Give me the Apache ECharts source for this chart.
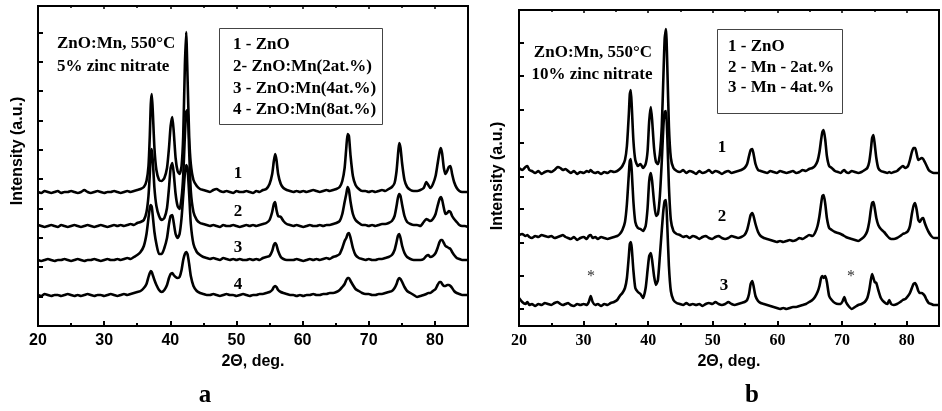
<!DOCTYPE html>
<html>
<head>
<meta charset="utf-8">
<script src="https://cdn.jsdelivr.net/npm/echarts@6.0.0/dist/echarts.min.js"></script>
<style>
  html, body { margin: 0; padding: 0; background: #fff; }
  #main { width: 942px; height: 411px; }
</style>
</head>
<body>
<div id="main"></div>
<script>
// panel a: 2theta grid and the four stacked patterns (intensity in a.u., offset as plotted)
const xA = [
  20,20.5,21,21.5,22,22.5,23,23.5,24,24.5,25,25.5,26,26.5,27,27.5,28,28.5,29,29.5,30,30.5,31,31.5,32,32.5,33,33.5,34,34.5,35,35.5,
  36,36.4,36.7,36.9,37.05,37.2,37.35,37.6,37.9,38.3,38.7,39.1,39.5,39.8,40.05,40.3,40.5,40.8,41.1,41.4,41.7,41.95,42.2,42.4,42.6,42.85,43.1,43.5,44,44.5,
  45,45.5,46,46.5,47,47.5,48,48.5,49,49.5,50,50.5,51,51.5,52,52.5,53,53.5,54,54.5,
  55,55.4,55.65,55.85,56.05,56.3,56.7,57.1,57.6,58.1,
  58.6,59.1,59.6,60.1,60.6,61.1,61.6,62.1,62.6,63.1,63.6,64.1,64.6,65.1,65.6,
  66,66.35,66.6,66.8,67,67.25,67.6,68,68.5,69,
  69.5,70,70.5,71,71.5,72,72.5,73,73.5,
  73.9,74.2,74.4,74.6,74.8,75.05,75.4,75.8,76.3,76.8,
  77.3,77.8,78.3,78.7,79,79.3,79.7,80.1,80.4,80.7,80.9,81.1,81.35,81.6,81.85,82.1,82.35,82.6,82.9,83.3,83.7,84.1,84.5,85
];
const a1 = [
  134,133,135,134,133,134,135,133,134,134,135,134,133,134,136,134,133,134,135,134,133,134,134,135,134,133,134,135,134,135,136,137,
  139,145,160,190,222,232,215,178,156,146,145,148,158,178,200,209,196,168,155,152,160,190,260,294,250,190,162,146,140,137,
  136,135,134,136,137,135,134,135,134,133,135,134,134,135,134,133,135,134,136,137,
  142,152,165,172,166,152,142,138,136,135,
  134,135,134,135,134,135,136,135,134,135,136,135,136,137,139,
  145,158,178,192,190,170,150,141,137,135,
  135,134,135,134,135,136,135,137,139,
  143,155,170,183,178,162,146,139,136,135,
  135,136,138,144,141,138,142,150,162,174,178,172,158,152,155,159,160,152,144,138,135,134,134,134
];
const a2 = [
  101,100,99,100,101,100,99,101,100,99,100,101,100,99,100,101,100,99,100,101,100,99,100,101,100,101,100,101,102,101,103,104,
  106,114,130,152,172,177,166,138,120,110,106,108,118,138,158,163,154,132,120,117,128,150,190,214,216,175,135,114,106,103,
  102,101,100,101,100,99,101,100,100,101,100,99,100,101,100,101,100,101,102,103,
  106,114,122,124,116,110,109,105,102,101,
  100,101,100,99,100,101,100,100,101,100,101,101,102,103,105,
  112,124,132,139,136,124,112,106,103,101,
  101,100,101,100,101,102,102,103,105,
  110,120,128,132,130,121,110,104,102,101,
  101,100,104,107,106,105,107,112,120,127,129,126,118,112,113,115,114,110,107,104,101,100,100,99
];
const a3 = [
  66,65,66,67,66,65,66,66,67,66,65,66,67,66,65,66,66,67,66,65,66,67,66,66,67,66,67,68,67,69,71,74,
  80,92,108,118,121,119,110,94,82,72,72,78,88,102,110,111,104,92,88,92,108,130,152,161,158,132,102,82,74,71,
  69,68,67,68,67,66,68,67,66,67,66,67,66,66,67,66,67,66,68,69,
  70,75,81,83,81,75,69,67,66,66,
  66,67,66,65,66,67,66,67,66,67,68,67,69,70,72,
  78,85,88,92,93,88,78,71,68,67,
  66,67,66,66,67,67,68,69,71,
  76,84,90,92,88,80,73,69,67,66,
  66,66,67,70,71,69,70,73,78,84,86,86,83,80,79,78,77,74,71,68,67,66,66,66
];
const a4 = [
  31,30,32,31,30,31,31,30,31,32,31,30,31,30,31,32,31,30,31,31,30,31,32,31,30,31,32,31,32,33,34,35,
  38,42,49,53,55,54,51,46,41,36,34,36,41,48,52,53,51,49,48,49,56,66,72,74,72,62,50,40,35,33,
  32,31,31,32,31,30,31,32,31,31,30,31,32,31,30,31,31,32,32,33,
  34,36,39,40,39,36,34,33,32,31,
  31,30,31,30,31,31,32,31,31,32,32,33,33,34,36,
  39,42,46,48,48,45,41,37,35,33,
  32,32,31,31,32,32,33,34,35,
  38,42,46,48,47,44,39,35,33,31,
  29,30,31,32,33,33,35,37,41,44,44,42,40,40,41,41,40,38,35,33,32,31,31,31
];

// panel b: 2theta grid and the three stacked patterns
const xB = [
  20,20.5,21,21.3,21.6,22,22.5,23,23.5,24,24.5,25,25.5,26,26.4,26.8,27.2,27.6,28,28.5,29,29.5,30,30.5,30.8,31.1,31.4,31.8,32.2,32.7,33.2,33.7,34.2,34.7,35.2,35.6,
  36,36.4,36.7,37,37.15,37.3,37.45,37.7,38,38.4,38.8,39.2,39.6,39.9,40.15,40.4,40.6,40.9,41.2,41.5,41.8,42.1,42.35,42.55,42.75,42.95,43.2,43.5,43.9,44.4,
  44.9,45.4,45.9,46.4,46.9,47.4,47.9,48.4,48.9,49.4,49.9,50.4,50.9,51.4,51.9,52.4,52.9,53.4,53.9,54.4,54.9,
  55.3,55.6,55.85,56.1,56.3,56.6,57,57.4,57.9,
  58.4,58.9,59.4,59.9,60.4,60.9,61.4,61.9,62.4,62.9,63.4,63.9,64.4,64.9,65.4,65.8,
  66.2,66.5,66.75,66.95,67.15,67.4,67.65,68,68.4,68.9,
  69.4,69.8,70.1,70.35,70.6,71,71.5,72,72.5,73,73.5,
  73.9,74.2,74.45,74.65,74.85,75.05,75.3,75.6,76,76.5,77,77.3,77.6,
  78,78.5,79,79.4,79.8,80.2,80.5,80.8,81.05,81.3,81.55,81.8,82.05,82.3,82.55,82.8,83.1,83.4,83.8,84.2,84.6,85
];
const b1 = [
  158,156,159,160,156,155,153,155,152,154,155,154,156,159,158,156,157,155,153,155,152,154,153,155,154,156,154,153,154,152,154,153,155,154,155,157,
  160,166,180,212,232,236,220,186,166,160,162,158,162,175,205,219,206,178,164,162,172,200,250,288,297,260,200,168,158,155,
  154,156,153,155,154,152,155,153,154,156,153,155,154,152,154,155,153,154,155,156,158,
  162,170,176,177,172,162,156,155,154,
  153,155,154,153,155,154,153,154,155,153,154,156,155,157,158,160,
  165,174,186,194,196,186,170,160,158,155,
  154,153,155,156,154,153,155,154,153,154,156,
  158,164,176,188,191,182,168,158,155,154,153,154,153,
  154,155,158,160,158,160,166,174,178,178,172,166,167,168,167,164,160,156,154,153,153,153
];
const b2 = [
  91,92,90,91,89,88,90,89,91,90,89,90,88,89,90,91,89,88,87,89,86,88,89,87,90,91,88,89,87,89,88,87,88,89,90,92,
  96,104,122,152,165,167,155,125,104,98,97,95,100,118,145,153,145,124,110,112,130,165,200,214,215,190,140,106,95,92,
  91,89,90,88,90,89,87,89,90,88,87,89,90,88,87,88,90,89,88,89,91,
  96,104,111,113,110,102,94,90,88,
  87,86,85,84,85,84,85,86,85,86,88,87,89,91,90,93,
  100,110,122,130,131,122,108,98,96,94,
  93,92,91,90,89,88,87,86,85,87,90,
  95,104,116,123,124,118,108,101,97,94,90,88,87,
  87,88,90,92,93,95,100,112,120,123,116,106,104,107,108,103,98,94,90,88,88,88
];
const b3 = [
  28,24,22,24,21,22,20,22,21,23,22,21,23,24,22,21,22,23,21,20,22,21,22,21,24,30,24,21,22,20,22,21,23,24,26,30,
  33,38,48,70,82,84,78,56,38,34,32,28,38,56,70,73,66,50,41,46,70,96,116,125,126,100,60,35,26,23,
  22,21,23,21,22,21,22,20,22,23,22,24,22,21,22,24,22,21,22,23,24,
  26,32,42,45,40,30,25,23,22,
  21,20,19,18,17,18,17,18,19,19,20,21,22,24,26,29,
  34,40,48,50,48,50,44,30,26,23,
  22,22,25,29,24,20,17,19,21,22,24,
  28,36,46,52,48,44,43,36,28,24,22,26,22,
  21,22,24,26,27,30,33,38,42,43,40,35,33,33,32,30,26,23,22,21,21,21
];

// inner tick marks on the intensity axes
const yTicksA = [29, 59, 88, 117, 147, 176, 205, 235, 264, 293];
const yTicksB = [17, 50, 83, 117, 149, 183, 216, 250, 283];

const legendA = ['1 - ZnO', '2- ZnO:Mn(2at.%)', '3 - ZnO:Mn(4at.%)', '4 - ZnO:Mn(8at.%)'];
const legendB = ['1 - ZnO', '2 - Mn - 2at.%', '3 - Mn - 4at.%'];

const SERIF = '"Liberation Serif", "Times New Roman", serif';
const SANS = '"Liberation Sans", Arial, sans-serif';

const chart = echarts.init(document.getElementById('main'), null, { renderer: 'canvas' });

function pairs (xs, ys) {
  return xs.map((x, i) => [x, ys[i]]);
}

function bottomAxis (grid, labelFont) {
  return {
    type: 'value', gridIndex: grid, position: 'bottom',
    min: 20, max: 85, interval: 10,
    name: '2\u0398, deg.', nameLocation: 'middle', nameGap: 27,
    nameTextStyle: { fontFamily: SANS, fontWeight: 'bold', fontSize: 16, color: '#000' },
    axisLine: { show: true, lineStyle: { color: '#000', width: 2 } },
    axisTick: { show: true, inside: true, length: 5, lineStyle: { color: '#000', width: 2 } },
    minorTick: { show: true, splitNumber: 2, length: 3, lineStyle: { color: '#000', width: 2 } },
    axisLabel: {
      margin: 7, fontFamily: labelFont, fontWeight: 'bold', fontSize: 16, color: '#000',
      formatter: v => (v > 80 ? '' : v)
    },
    splitLine: { show: false }
  };
}

function topAxis (grid) {
  return {
    type: 'value', gridIndex: grid, position: 'top',
    min: 20, max: 85, interval: 10,
    axisLine: { show: true, lineStyle: { color: '#000', width: 2 } },
    axisTick: { show: true, inside: true, length: 3, lineStyle: { color: '#000', width: 1.5 } },
    minorTick: { show: true, splitNumber: 2, length: 2, lineStyle: { color: '#000', width: 1.5 } },
    axisLabel: { show: false },
    splitLine: { show: false }
  };
}

function leftAxis (grid, max, ticks) {
  return {
    type: 'value', gridIndex: grid, min: 0, max: max,
    axisLine: { show: true, lineStyle: { color: '#000', width: 2 } },
    axisTick: { show: true, inside: true, length: 5, customValues: ticks, lineStyle: { color: '#000', width: 2 } },
    axisLabel: { show: false },
    splitLine: { show: false }
  };
}

function pattern (data, xi, yi) {
  return {
    type: 'line', xAxisIndex: xi, yAxisIndex: yi,
    data: data, showSymbol: false, smooth: 0.2,
    lineStyle: { color: '#000', width: 2.6 },
    silent: true, animation: false
  };
}

function txt (x, y, text, font, align, extra) {
  return Object.assign({
    type: 'text', x: x, y: y, silent: true,
    style: { text: text, font: font, fill: '#000', align: align || 'left', verticalAlign: 'middle' }
  }, extra || {});
}

const bold17 = 'bold 17px ' + SERIF;
const graphics = [
  // panel a annotations
  txt(57, 44, 'ZnO:Mn, 550\u00B0C', bold17),
  txt(57, 67, '5% zinc nitrate', bold17),
  { type: 'rect', silent: true, shape: { x: 219.5, y: 28.5, width: 163, height: 96 },
    style: { fill: '#fff', stroke: '#444', lineWidth: 1 } },
  ...legendA.map((t, i) => txt(233, [45, 67, 89, 110][i], t, bold17)),
  txt(238, 174, '1', bold17, 'center'),
  txt(238, 212, '2', bold17, 'center'),
  txt(238, 248, '3', bold17, 'center'),
  txt(238, 285, '4', bold17, 'center'),
  txt(18, 151, 'Intensity (a.u.)', 'bold 16px ' + SANS, 'center', { rotation: Math.PI / 2 }),
  txt(205, 396, 'a', 'bold 25px ' + SERIF, 'center'),
  // panel b annotations
  txt(593, 53, 'ZnO:Mn, 550\u00B0C', bold17, 'center'),
  txt(592, 75, '10% zinc nitrate', bold17, 'center'),
  { type: 'rect', silent: true, shape: { x: 717.5, y: 29.5, width: 125, height: 84 },
    style: { fill: '#fff', stroke: '#444', lineWidth: 1 } },
  ...legendB.map((t, i) => txt(728, [47, 68, 88][i], t, bold17)),
  txt(722, 148, '1', bold17, 'center'),
  txt(722, 217, '2', bold17, 'center'),
  txt(724, 286, '3', bold17, 'center'),
  txt(591, 277, '*', '16px ' + SERIF, 'center', { style: { text: '*', font: '16px ' + SERIF, fill: '#333', align: 'center', verticalAlign: 'middle' } }),
  txt(851, 277, '*', '16px ' + SERIF, 'center', { style: { text: '*', font: '16px ' + SERIF, fill: '#333', align: 'center', verticalAlign: 'middle' } }),
  txt(498, 176, 'Intensity (a.u.)', 'bold 16px ' + SANS, 'center', { rotation: Math.PI / 2 }),
  txt(752, 396, 'b', 'bold 25px ' + SERIF, 'center')
];

const option = {
  backgroundColor: '#fff',
  animation: false,
  grid: [
    { left: 38, right: 474, top: 6, bottom: 85, show: true, borderColor: '#000', borderWidth: 2 },
    { left: 519, right: -6, top: 10, bottom: 85, show: true, borderColor: '#000', borderWidth: 2 }
  ],
  xAxis: [
    bottomAxis(0, SANS),
    bottomAxis(1, SERIF),
    topAxis(0),
    topAxis(1)
  ],
  yAxis: [
    leftAxis(0, 320, yTicksA),
    leftAxis(1, 316, yTicksB)
  ],
  series: [
    pattern(pairs(xA, a1), 0, 0),
    pattern(pairs(xA, a2), 0, 0),
    pattern(pairs(xA, a3), 0, 0),
    pattern(pairs(xA, a4), 0, 0),
    pattern(pairs(xB, b1), 1, 1),
    pattern(pairs(xB, b2), 1, 1),
    pattern(pairs(xB, b3), 1, 1)
  ],
  graphic: graphics
};

chart.setOption(option);
</script>
</body>
</html>
